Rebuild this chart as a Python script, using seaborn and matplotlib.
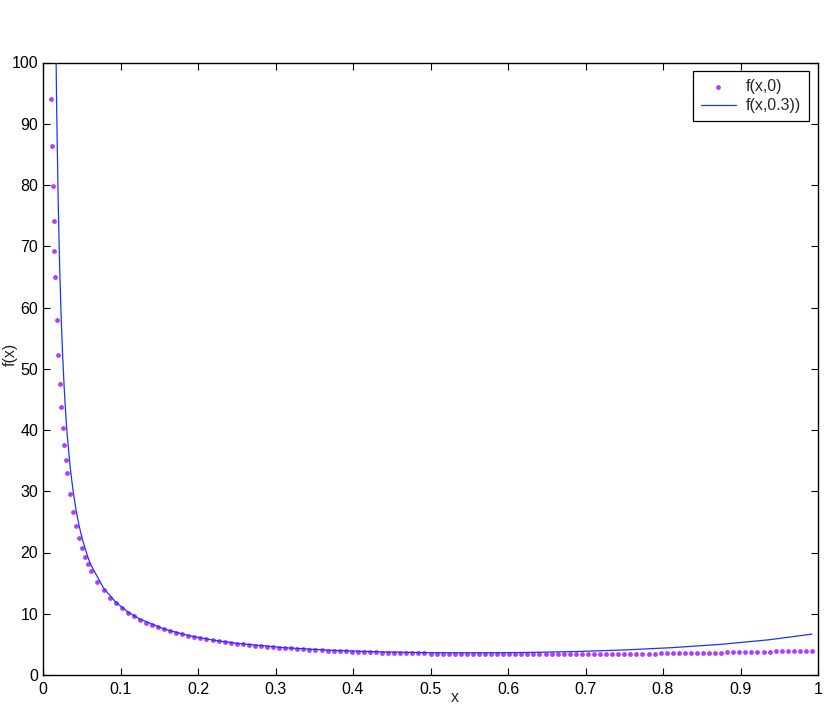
import matplotlib
matplotlib.use("Agg")
import matplotlib.pyplot as plt
import seaborn as sns
import pandas as pd

# ---- data ----
dots_x = [0.01074, 0.01172, 0.01270, 0.01367, 0.01465,
          0.01563, 0.01758, 0.01953, 0.02148, 0.02344, 0.02539, 0.02734, 0.02930,
          0.03125, 0.03516, 0.03906, 0.04297, 0.04688, 0.05078, 0.05469, 0.05859,
          0.0625, 0.0703, 0.0781, 0.0859, 0.0938, 0.1016, 0.1094, 0.1172, 0.125, 0.1328,
          0.1406, 0.1484, 0.1563, 0.1641, 0.1719, 0.1797, 0.1875, 0.1953, 0.2031, 0.2109,
          0.2188, 0.2266, 0.2344, 0.2422, 0.25, 0.2578, 0.2656, 0.2734, 0.2813, 0.2891,
          0.2969, 0.3047, 0.3125, 0.3203, 0.3281, 0.3359, 0.3438, 0.3516, 0.3594, 0.3672,
          0.375, 0.3828, 0.3906, 0.3984, 0.4063, 0.4141, 0.4219, 0.4297, 0.4375, 0.4453,
          0.4531, 0.4609, 0.4688, 0.4766, 0.4844, 0.4922, 0.5, 0.5078, 0.5156, 0.5234,
          0.5313, 0.5391, 0.5469, 0.5547, 0.5625, 0.5703, 0.5781, 0.5859, 0.5938, 0.6016,
          0.6094, 0.6172, 0.625, 0.6328, 0.6406, 0.6484, 0.6563, 0.6641, 0.6719, 0.6797,
          0.6875, 0.6953, 0.7031, 0.7109, 0.7188, 0.7266, 0.7344, 0.7422, 0.75, 0.7578,
          0.7656, 0.7734, 0.7813, 0.7891, 0.7969, 0.8047, 0.8125, 0.8203, 0.8281, 0.8359,
          0.8438, 0.8516, 0.8594, 0.8672, 0.875, 0.8828, 0.8906, 0.8984, 0.9063, 0.9141,
          0.9219, 0.9297, 0.9375, 0.9453, 0.9531, 0.9609, 0.9688, 0.9766, 0.9844, 0.9922]
dots_y = [94.1, 86.3, 79.8, 74.1, 69.3,
          65.0, 57.9, 52.2, 47.5, 43.7, 40.4, 37.6, 35.1,
          33.0, 29.5, 26.6, 24.3, 22.3, 20.7, 19.3, 18.1,
          17.01, 15.23, 13.81, 12.65, 11.68, 10.87, 10.17, 9.56, 9.03, 8.56,
          8.15, 7.78, 7.45, 7.15, 6.88, 6.63, 6.40, 6.20, 6.01, 5.83,
          5.67, 5.52, 5.38, 5.25, 5.13, 5.01, 4.91, 4.81, 4.71, 4.63,
          4.54, 4.47, 4.40, 4.33, 4.26, 4.20, 4.15, 4.09, 4.04, 3.99,
          3.95, 3.91, 3.87, 3.83, 3.79, 3.76, 3.73, 3.70, 3.67, 3.64,
          3.62, 3.59, 3.57, 3.55, 3.53, 3.52, 3.50, 3.49, 3.47, 3.46,
          3.45, 3.44, 3.43, 3.42, 3.41, 3.40, 3.40, 3.39, 3.39, 3.39,
          3.38, 3.38, 3.38, 3.38, 3.38, 3.38, 3.39, 3.39, 3.39, 3.40,
          3.40, 3.41, 3.41, 3.42, 3.42, 3.43, 3.44, 3.45, 3.46, 3.47,
          3.48, 3.49, 3.50, 3.51, 3.52, 3.54, 3.55, 3.56, 3.58, 3.59,
          3.61, 3.62, 3.64, 3.66, 3.67, 3.69, 3.71, 3.73, 3.75, 3.77,
          3.78, 3.80, 3.82, 3.85, 3.87, 3.89, 3.91, 3.93, 3.95, 3.98]

line_x = [0.01563, 0.01758, 0.01953, 0.02148, 0.02344, 0.02539, 0.02734, 0.02930,
          0.03125, 0.03516, 0.03906, 0.04297, 0.04688, 0.05078, 0.05469, 0.05859,
          0.0625, 0.0781, 0.0938, 0.1094, 0.125, 0.1563, 0.1875, 0.2188, 0.25,
          0.3125, 0.375, 0.4375, 0.5, 0.5625, 0.625, 0.6875, 0.75, 0.8125,
          0.875, 0.9375, 0.9922]
line_y = [114.8, 92.9, 77.7, 66.7, 58.4, 52.0, 46.9, 42.7,
          39.2, 33.8, 29.8, 26.7, 24.2, 22.2, 20.5, 19.0,
          17.8, 14.2, 11.9, 10.3, 9.13, 7.50, 6.45, 5.71, 5.17,
          4.45, 4.02, 3.77, 3.64, 3.62, 3.68, 3.83, 4.09, 4.47,
          5.01, 5.76, 6.68]

series_labels = ["f(x,0)", "f(x,0.3))"]
x_ticks = [0, 0.1, 0.2, 0.3, 0.4, 0.5, 0.6, 0.7, 0.8, 0.9, 1]
x_tick_labels = ["0", "0.1", "0.2", "0.3", "0.4", "0.5", "0.6", "0.7", "0.8", "0.9", "1"]
y_ticks = [0, 10, 20, 30, 40, 50, 60, 70, 80, 90, 100]
y_tick_labels = ["0", "10", "20", "30", "40", "50", "60", "70", "80", "90", "100"]

# ---- style ----
sns.set_style("white")
plt.rcParams["font.family"] = ["Liberation Sans", "DejaVu Sans"]
FS = 11.5

df_dots = pd.DataFrame({"x": dots_x, "y": dots_y})
df_line = pd.DataFrame({"x": line_x, "y": line_y})

fig = plt.figure(figsize=(8.3, 7.05), dpi=100)
ax = fig.add_axes([43 / 830, 30 / 705, 775 / 830, 612.5 / 705])

sns.scatterplot(data=df_dots, x="x", y="y", ax=ax, s=12, color="#b43cff",
                linewidth=0, label=series_labels[0], zorder=2)
sns.lineplot(data=df_line, x="x", y="y", ax=ax, sort=False, estimator=None,
             color="#1a33ff", linewidth=0.9, label=series_labels[1], zorder=3)

ax.set_xlim(0, 1)
ax.set_ylim(0, 100)
ax.set_xticks(x_ticks)
ax.set_xticklabels(x_tick_labels)
ax.set_yticks(y_ticks)
ax.set_yticklabels(y_tick_labels)

for sp in ax.spines.values():
    sp.set_visible(True)
    sp.set_color("black")
    sp.set_linewidth(1.0)

ax.tick_params(axis="both", which="both", direction="in", length=5, width=0.8,
               colors="black", labelsize=FS, top=True, right=True,
               bottom=True, left=True)
ax.tick_params(axis="x", pad=5.0)
ax.tick_params(axis="y", pad=3.5)

ax.set_xlabel("x", fontsize=FS)
ax.xaxis.set_label_coords(0.532, -0.024)
ax.set_ylabel("f(x)", fontsize=FS)
ax.yaxis.set_label_coords(-0.033, 0.523)

leg = ax.legend(loc="upper right", frameon=True, fancybox=False, shadow=False,
                framealpha=1, edgecolor="black", fontsize=FS,
                borderaxespad=0.55, handlelength=2.15, handletextpad=0.65,
                borderpad=0.5, labelspacing=0.25, scatterpoints=1)
leg.get_frame().set_linewidth(0.9)

fig.savefig("out.png", dpi=100, facecolor="white")
